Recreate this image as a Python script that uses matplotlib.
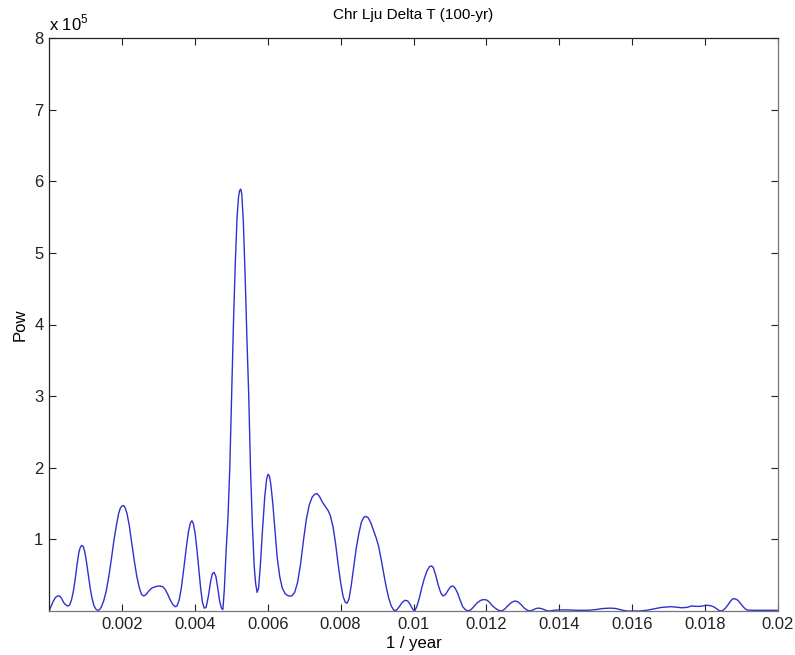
import matplotlib
matplotlib.use("Agg")
import matplotlib.pyplot as plt
import numpy as np

plt.rcParams['font.family'] = ['Liberation Sans', 'DejaVu Sans']
plt.rcParams['mathtext.fontset'] = 'custom'
plt.rcParams['mathtext.rm'] = 'Liberation Sans'

# frequency (units of 1e-3 per year) and power (units of 1e5)
freq_milli = [
    0.00, 0.06, 0.12, 0.18, 0.24, 0.29, 0.34, 0.40, 0.45, 0.49, 0.53, 0.57, 0.62,
    0.67, 0.72, 0.77, 0.82, 0.86, 0.90, 0.94, 0.98, 1.03, 1.08, 1.13, 1.18, 1.23,
    1.28, 1.33, 1.38, 1.43, 1.50, 1.57, 1.64, 1.71, 1.78, 1.85, 1.91, 1.96, 2.01,
    2.05, 2.09, 2.14, 2.20, 2.27, 2.34, 2.41, 2.48, 2.54, 2.60, 2.66, 2.74, 2.82,
    2.92, 3.02, 3.12, 3.19, 3.26, 3.33, 3.40, 3.46, 3.51, 3.57, 3.63, 3.70, 3.77,
    3.83, 3.88, 3.92, 3.96, 4.01, 4.06, 4.11, 4.16, 4.21, 4.26, 4.31, 4.37, 4.43,
    4.48, 4.53, 4.58, 4.63, 4.68, 4.73, 4.77, 4.81, 4.86, 4.91, 4.96, 5.01, 5.06,
    5.11, 5.16, 5.20, 5.23, 5.26, 5.29, 5.33, 5.38, 5.43, 5.48, 5.53, 5.58, 5.63,
    5.67, 5.71, 5.75, 5.80, 5.86, 5.92, 5.97, 6.01, 6.05, 6.09, 6.14, 6.20, 6.26,
    6.33, 6.40, 6.48, 6.57, 6.66, 6.74, 6.82, 6.90, 6.98, 7.06, 7.14, 7.22, 7.29,
    7.35, 7.42, 7.50, 7.58, 7.66, 7.72, 7.79, 7.86, 7.93, 8.00, 8.07, 8.13, 8.18,
    8.23, 8.29, 8.36, 8.43, 8.50, 8.57, 8.64, 8.70, 8.76, 8.83, 8.90, 8.97, 9.04,
    9.11, 9.18, 9.25, 9.32, 9.39, 9.46, 9.53, 9.61, 9.69, 9.77, 9.84, 9.91, 9.97,
    10.03, 10.09, 10.16, 10.23, 10.30, 10.37, 10.44, 10.49, 10.54, 10.61, 10.68, 10.75, 10.81,
    10.88, 10.95, 11.02, 11.08, 11.14, 11.21, 11.28, 11.35, 11.42, 11.50, 11.58, 11.67, 11.76,
    11.85, 11.93, 12.00, 12.07, 12.15, 12.24, 12.33, 12.42, 12.51, 12.60, 12.69, 12.78,
    12.86, 12.95, 13.04, 13.12, 13.20, 13.28, 13.36, 13.43, 13.50, 13.58, 13.66, 13.74, 13.85,
    14.00, 14.20, 14.50, 14.80, 15.00, 15.20, 15.39, 15.55, 15.70, 15.85, 16.00, 16.20, 16.40,
    16.60, 16.80, 17.04, 17.20, 17.35, 17.50, 17.63, 17.75, 17.88, 18.04, 18.15, 18.25, 18.32,
    18.39, 18.46, 18.54, 18.62, 18.70, 18.76, 18.82, 18.90, 18.98, 19.06, 19.14, 19.30, 19.50,
    19.75, 20.00,
]
power_e5 = [
    0.00, 0.07, 0.14, 0.19, 0.21, 0.21, 0.18, 0.12, 0.09, 0.075, 0.07, 0.09, 0.16,
    0.28, 0.45, 0.65, 0.82, 0.89, 0.915, 0.90, 0.83, 0.68, 0.50, 0.32, 0.18, 0.08,
    0.03, 0.01, 0.015, 0.05, 0.14, 0.28, 0.48, 0.72, 0.98, 1.20, 1.36, 1.44, 1.47,
    1.47, 1.44, 1.36, 1.20, 0.95, 0.70, 0.48, 0.32, 0.23, 0.21, 0.23, 0.28, 0.32,
    0.34, 0.35, 0.34, 0.30, 0.23, 0.15, 0.09, 0.06, 0.07, 0.15, 0.32, 0.60, 0.90,
    1.12, 1.23, 1.26, 1.22, 1.08, 0.85, 0.58, 0.32, 0.12, 0.04, 0.05, 0.20, 0.40,
    0.52, 0.54, 0.48, 0.32, 0.14, 0.04, 0.02, 0.30, 0.85, 1.30, 2.00, 3.00, 4.00,
    4.85, 5.50, 5.78, 5.87, 5.89, 5.82, 5.45, 4.70, 3.80, 3.00, 1.95, 1.20, 0.62,
    0.38, 0.26, 0.32, 0.65, 1.15, 1.60, 1.84, 1.91, 1.88, 1.75, 1.50, 1.12, 0.75,
    0.48, 0.32, 0.24, 0.21, 0.21, 0.26, 0.40, 0.65, 0.98, 1.28, 1.48, 1.59, 1.63,
    1.64, 1.60, 1.52, 1.46, 1.40, 1.33, 1.18, 0.95, 0.66, 0.40, 0.20, 0.12, 0.11,
    0.17, 0.35, 0.62, 0.88, 1.08, 1.24, 1.31, 1.32, 1.30, 1.23, 1.13, 1.03, 0.91,
    0.73, 0.53, 0.34, 0.18, 0.07, 0.01, 0.01, 0.06, 0.12, 0.15, 0.14, 0.09, 0.03,
    0.00, 0.06, 0.18, 0.33, 0.46, 0.56, 0.62, 0.63, 0.61, 0.50, 0.36, 0.25, 0.21,
    0.23, 0.29, 0.34, 0.35, 0.32, 0.25, 0.15, 0.06, 0.02, 0.00, 0.02, 0.07, 0.12,
    0.15, 0.16, 0.155, 0.13, 0.08, 0.04, 0.01, 0.00, 0.03, 0.08, 0.12, 0.14,
    0.13, 0.09, 0.04, 0.01, 0.00, 0.015, 0.035, 0.04, 0.035, 0.02, 0.005, 0.00, 0.01,
    0.015, 0.015, 0.01, 0.01, 0.02, 0.035, 0.04, 0.035, 0.015, 0.00, 0.00, 0.00, 0.01,
    0.03, 0.05, 0.06, 0.055, 0.045, 0.05, 0.07, 0.065, 0.065, 0.08, 0.075, 0.055, 0.03,
    0.005, 0.00, 0.03, 0.08, 0.14, 0.17, 0.17, 0.15, 0.10, 0.05, 0.015, 0.01, 0.01,
    0.01, 0.01,
]

x_ticks = [0.002, 0.004, 0.006, 0.008, 0.01, 0.012, 0.014, 0.016, 0.018, 0.02]
x_tick_labels = ['0.002', '0.004', '0.006', '0.008', '0.01', '0.012', '0.014', '0.016', '0.018', '0.02']
y_ticks = [1, 2, 3, 4, 5, 6, 7, 8]
y_tick_labels = ['1', '2', '3', '4', '5', '6', '7', '8']

fig = plt.figure(figsize=(7.95, 6.55), dpi=100)
ax = fig.add_axes([49/795, 44/655, 729/795, 573/655])

n = min(len(freq_milli), len(power_e5))
x = np.array(freq_milli[:n]) * 1e-3
y = np.array(power_e5[:n])
ax.plot(x, y, color='#3030cc', linewidth=1.0)

ax.set_xlim(0, 0.02)
ax.set_ylim(0, 8)
ax.set_xticks(x_ticks)
ax.set_xticklabels(x_tick_labels)
ax.set_yticks(y_ticks)
ax.set_yticklabels(y_tick_labels)
ax.tick_params(direction='in', top=True, right=True, length=5, width=0.8,
               labelsize=12, colors='#222222', pad=4)
ax.tick_params(axis='x', pad=4)
for name, s in ax.spines.items():
    s.set_color('#222222' if name in ('left', 'top') else '#777777')
    s.set_linewidth(0.9)

ax.set_title('Chr Lju Delta T (100-yr)', fontsize=11, pad=14)
ax.set_xlabel('1 / year', fontsize=12, labelpad=3)
ax.set_ylabel('Pow', fontsize=12, labelpad=5)
fig.text(49/795, 1 - 23/655, r'x 10$^{5}$', fontsize=12, ha='left', va='center')

fig.savefig('out.png', dpi=100)
